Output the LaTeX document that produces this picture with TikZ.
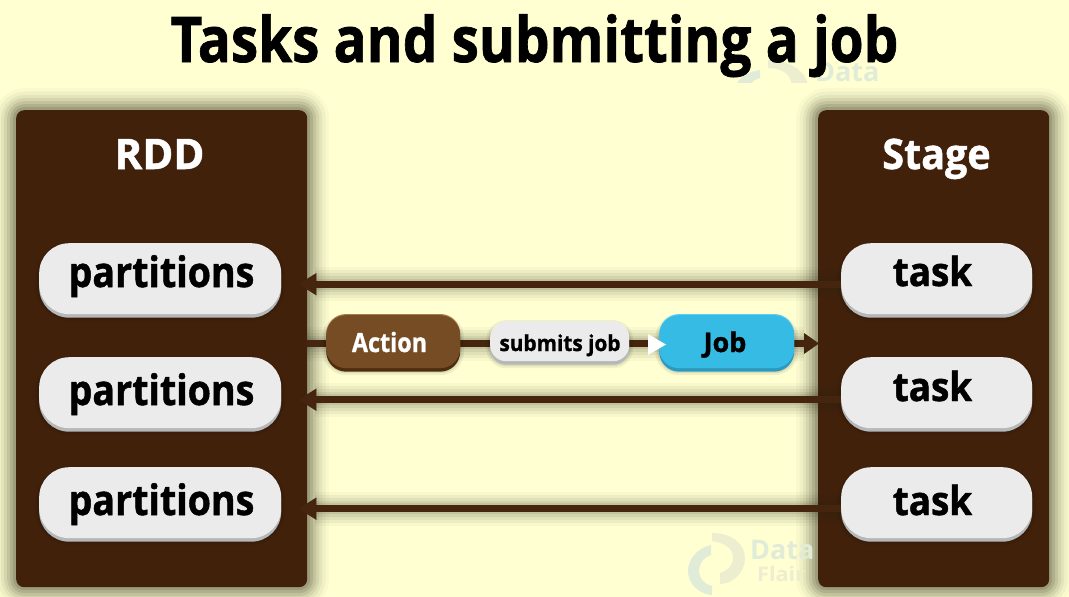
\documentclass[tikz,border=0pt]{standalone}
\usepackage{fontspec}
\setmainfont{Open Sans}[BoldFont=* Bold]
\newfontfamily\heavy{Open Sans}[UprightFont=* Bold,FakeBold=1.2]
\usetikzlibrary{arrows.meta,calc}
\definecolor{bgc}{HTML}{FFFFD2}
\definecolor{brownc}{HTML}{42210B}
\definecolor{linkc}{HTML}{46250E}
\definecolor{actionc}{HTML}{754C24}
\definecolor{actionrim}{HTML}{4E2C10}
\definecolor{actiontop}{HTML}{A67C45}
\definecolor{jobc}{HTML}{36BBE4}
\definecolor{jobrim}{HTML}{2C9AC0}
\definecolor{jobtop}{HTML}{55D2F2}
\definecolor{pillc}{HTML}{EBEBEB}
\definecolor{pillrim}{HTML}{B4B8B8}
\definecolor{wmblue}{HTML}{E0ECD8}
\definecolor{wmgrey}{HTML}{EDEDCF}
\definecolor{shadowc}{HTML}{2A2A18}
\tikzset{
  softshadow/.style={
    preaction={draw=shadowc,opacity=.025,line width=44pt,line join=round},
    preaction={draw=shadowc,opacity=.04,line width=37pt,line join=round},
    preaction={draw=shadowc,opacity=.06,line width=30pt,line join=round},
    preaction={draw=shadowc,opacity=.08,line width=24pt,line join=round},
    preaction={draw=shadowc,opacity=.10,line width=18pt,line join=round},
    preaction={draw=shadowc,opacity=.12,line width=12pt,line join=round},
    preaction={draw=shadowc,opacity=.14,line width=6pt,line join=round}},
  nearshadow/.style={
    preaction={draw=black,opacity=.06,line width=8pt,transform canvas={yshift=-3pt}},
    preaction={draw=black,opacity=.08,line width=4pt,transform canvas={yshift=-3pt}}},
  panel/.style={softshadow,fill=brownc,rounded corners=8pt,anchor=north west,inner sep=0pt},
  pill/.style={nearshadow,preaction={fill=#1,transform canvas={yshift=-3.5pt}},
    rounded corners=30pt,inner sep=0pt,anchor=north west},
  partpill/.style={pill=pillrim,fill=pillc,minimum width=242pt,minimum height=71pt},
  taskpill/.style={pill=pillrim,fill=pillc,minimum width=191pt,minimum height=71pt},
  smallpill/.style={pill=#1},
  lab/.style={inner sep=0pt,anchor=base},
  parttext/.style={lab,xscale=.895,font=\heavy\fontsize{42}{42}\selectfont},
  tasktext/.style={lab,xscale=.92,font=\heavy\fontsize{40}{40}\selectfont},
  link/.style={draw=linkc,line width=7pt},
  linkshadow/.style={preaction={draw=shadowc,opacity=.03,line width=34pt},
    preaction={draw=shadowc,opacity=.05,line width=28pt},
    preaction={draw=shadowc,opacity=.06,line width=22pt},
    preaction={draw=shadowc,opacity=.08,line width=16pt},
    preaction={draw=shadowc,opacity=.09,line width=11pt}},
  backarrow/.style={link,linkshadow,-{Triangle[length=18pt,width=21pt]}},
  headtext/.style={lab,text=white,font=\heavy\fontsize{42}{42}\selectfont},
  wmtext/.style={inner sep=0pt,anchor=west,font=\bfseries\fontsize{#1}{#1}\selectfont}
}
\begin{document}
\begin{tikzpicture}[x=1pt,y=-1pt]
\useasboundingbox (0,0) rectangle (1069,597);
\fill[bgc] (0,0) rectangle (1069,597);
% watermarks
\begin{scope}
\clip (690,50) rectangle (900,82);
\fill[wmgrey] (768,60) .. controls (790,60) and (808,72) .. (808,88) -- (792,88) .. controls (792,76) and (785,68) .. (768,68) -- cycle;
\fill[wmblue] (760,70) .. controls (745,72) and (735,80) .. (733,95) -- (745,95) .. controls (747,86) and (752,80) .. (760,78) -- cycle;
\node[wmtext=27,text=wmblue] (wmtop) at (815,72) {Data};
\end{scope}
\fill[wmgrey] (712,533) .. controls (733,533) and (745,545) .. (745,558) .. controls (745,572) and (733,584) .. (720,584) -- (720,573) .. controls (727,571) and (733,566) .. (733,558) .. controls (733,548) and (725,543) .. (712,541) -- cycle;
\fill[wmblue] (711,545) .. controls (697,548) and (688,560) .. (688,571) .. controls (688,584) and (699,594) .. (712,595) -- (712,586) .. controls (704,584) and (699,578) .. (699,571) .. controls (699,563) and (704,557) .. (711,555) -- cycle;
% title
\node[lab,xscale=.87,font=\heavy\fontsize{63}{63}\selectfont] (title) at (534.5,62) {Tasks and submitting a job};
% panels
\node[panel,minimum width=291pt,minimum height=477pt] (rdd) at (16,110) {};
\node[panel,minimum width=231pt,minimum height=477pt] (stage) at (818,110) {};
\node[wmtext=27,text=wmblue] (wmdata) at (750,549.5) {Data};
\node[wmtext=20,xscale=1.08,text=wmgrey] (wmflair) at (757,574) {Flair};
\node[headtext] (rddlab) at (159.5,169) {RDD};
\node[headtext,xscale=.94] (stagelab) at (936.5,169) {Stage};
% pills
\node[partpill] (p1) at (39,243) {};
\node[partpill] (p2) at (39,357) {};
\node[partpill] (p3) at (39,467) {};
\node[taskpill] (t1) at (841,243) {};
\node[taskpill] (t2) at (841,357) {};
\node[taskpill] (t3) at (841,467) {};
\node[parttext] (p1t) at (161.5,287) {partitions};
\node[parttext] (p2t) at (161.5,405) {partitions};
\node[parttext] (p3t) at (161.5,515) {partitions};
\node[tasktext] (t1t) at (932.5,286) {task};
\node[tasktext] (t2t) at (932.5,401) {task};
\node[tasktext] (t3t) at (932.5,515) {task};
% back arrows
\draw[backarrow] ([yshift=-5.5pt]t1.west) -- ([xshift=17pt,yshift=-5.5pt]p1.east);
\draw[backarrow] ([yshift=-7pt]t2.west) -- ([xshift=17pt,yshift=-7pt]p2.east);
\draw[backarrow] ([yshift=-6pt]t3.west) -- ([xshift=17pt,yshift=-6pt]p3.east);
% middle chain
\coordinate (mstart) at (307,343.5);
\coordinate (mend) at (819,343.5);
\draw[link,linkshadow] (mstart) -- (804,343.5);
\fill[linkc] (804,333) -- (mend) -- (804,354) -- cycle;
\node[smallpill=actionrim,preaction={fill=actiontop,transform canvas={yshift=1.2pt}},fill=actionc,minimum width=134pt,minimum height=53pt,rounded corners=20pt] (action) at (326,315) {};
\node[lab,xscale=.88,text=white,font=\heavy\fontsize{26.5}{26.5}\selectfont] (actiont) at (389.5,352) {Action};
\node[smallpill=pillrim,fill=pillc,minimum width=139pt,minimum height=40pt,rounded corners=16pt] (submit) at (490,321) {};
\node[lab,xscale=.945,font=\heavy\fontsize{22}{22}\selectfont] (submitt) at (560,351) {submits job};
\node[smallpill=jobrim,preaction={fill=jobtop,transform canvas={yshift=1.2pt}},fill=jobc,minimum width=135pt,minimum height=53pt,rounded corners=20pt] (job) at (659,315) {};
\node[lab,font=\heavy\fontsize{27}{27}\selectfont] (jobt) at (725,352) {Job};
\fill[white] (648,334) -- (666,344.5) -- (648,355) -- cycle;
\end{tikzpicture}
\end{document}
